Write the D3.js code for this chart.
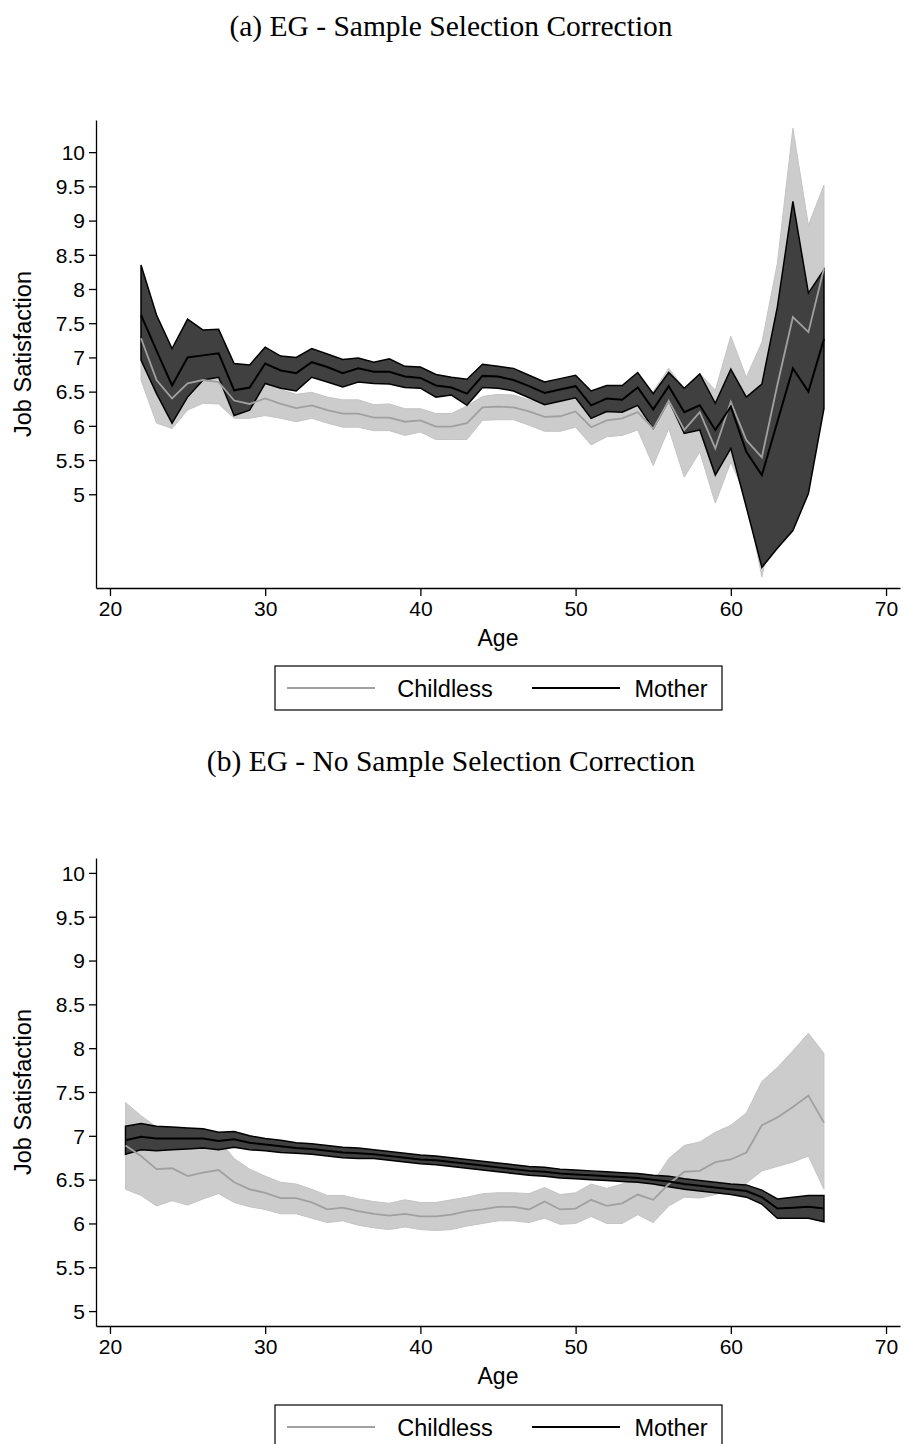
<!DOCTYPE html>
<html>
<head>
<meta charset="utf-8">
<script src="https://cdn.jsdelivr.net/npm/d3@7"></script>
<style>
    body { margin: 0; background: #fff; }
    text { font-family: "Liberation Sans", Arial, sans-serif; fill: #000; }
    .title { font-family: "Liberation Serif", "Times New Roman", serif; }
</style>
</head>
<body>
<div id="chart"></div>
<script>
// (a) with sample selection correction, ages 22-66
const agesA = [22,23,24,25,26,27,28,29,30,31,32,33,34,35,36,37,38,39,40,41,42,43,44,45,46,47,48,49,50,51,52,53,54,55,56,57,58,59,60,61,62,63,64,65,66];
const childlessMeanA = [7.28,6.67,6.40,6.62,6.67,6.64,6.37,6.32,6.40,6.32, 6.26,6.30,6.23,6.18,6.18,6.12,6.12,6.06,6.08,5.99, 5.99,6.04,6.27,6.28,6.27,6.21,6.13,6.14,6.21,5.98, 6.08,6.11,6.20,5.96,6.37,5.94,6.20,5.67,6.35,5.79, 5.54,6.60,7.59,7.37,8.30];
const childlessHiA = [7.85,7.30,6.84,7.00,7.00,6.96,6.63,6.53,6.65,6.53, 6.46,6.49,6.42,6.38,6.38,6.31,6.32,6.25,6.25,6.18, 6.18,6.29,6.43,6.46,6.45,6.38,6.33,6.35,6.41,6.15, 6.30,6.33,6.45,6.50,6.84,6.55,6.77,6.52,7.31,6.71, 7.22,8.38,10.35,8.93,9.52];
const childlessLoA = [6.67,6.04,5.96,6.23,6.33,6.32,6.11,6.11,6.15,6.11, 6.06,6.11,6.04,5.98,5.98,5.93,5.93,5.86,5.91,5.80, 5.80,5.80,6.08,6.09,6.09,6.01,5.92,5.92,5.98,5.72, 5.84,5.86,5.94,5.42,5.96,5.25,5.62,4.87,5.47,4.95, 3.79,4.90,4.83,5.81,7.08];
const motherMeanA = [7.62,7.10,6.59,7.00,7.03,7.06,6.52,6.56,6.91,6.81, 6.77,6.93,6.86,6.77,6.84,6.79,6.79,6.72,6.70,6.59, 6.56,6.47,6.73,6.72,6.67,6.58,6.48,6.53,6.58,6.30, 6.40,6.38,6.56,6.24,6.58,6.20,6.30,5.94,6.28,5.62, 5.28,6.06,6.84,6.50,7.27];
const motherHiA = [8.35,7.62,7.13,7.56,7.40,7.41,6.91,6.89,7.15,7.02, 7.00,7.13,7.05,6.97,6.99,6.93,6.98,6.87,6.86,6.75, 6.71,6.68,6.90,6.87,6.84,6.74,6.64,6.69,6.74,6.51, 6.59,6.59,6.78,6.47,6.78,6.55,6.76,6.33,6.83,6.42, 6.61,7.74,9.28,7.94,8.28];
const motherLoA = [6.96,6.47,6.04,6.42,6.67,6.71,6.15,6.23,6.62,6.55, 6.51,6.71,6.64,6.57,6.64,6.62,6.61,6.56,6.55,6.42, 6.45,6.30,6.56,6.55,6.51,6.41,6.31,6.36,6.41,6.11, 6.21,6.20,6.30,5.96,6.37,5.89,5.94,5.28,5.67,4.81, 3.93,4.21,4.47,5.01,6.25];

// (b) no correction, ages 21-66
const agesB = [21,22,23,24,25,26,27,28,29,30,31,32,33,34,35,36,37,38,39,40,41,42,43,44,45,46,47,48,49,50,51,52,53,54,55,56,57,58,59,60,61,62,63,64,65,66];
const childlessMeanB = [6.89,6.77,6.62,6.63,6.54,6.58,6.61,6.47,6.39,6.35, 6.29,6.29,6.24,6.16,6.18,6.14,6.11,6.09,6.11,6.08, 6.08,6.10,6.14,6.16,6.19,6.19,6.16,6.25,6.16,6.17, 6.27,6.20,6.23,6.33,6.27,6.45,6.59,6.60,6.70,6.73, 6.81,7.12,7.21,7.33,7.46,7.15];
const childlessHiB = [7.38,7.23,7.10,7.08,7.07,7.06,6.96,6.74,6.62,6.54, 6.47,6.45,6.39,6.32,6.32,6.28,6.25,6.23,6.27,6.24, 6.24,6.27,6.30,6.34,6.35,6.35,6.34,6.41,6.33,6.35, 6.45,6.40,6.45,6.51,6.47,6.74,6.89,6.93,7.04,7.12, 7.26,7.62,7.78,7.97,8.17,7.94];
const childlessLoB = [6.39,6.32,6.20,6.26,6.21,6.28,6.34,6.24,6.19,6.16, 6.11,6.11,6.06,6.01,6.03,5.98,5.95,5.93,5.96,5.93, 5.92,5.93,5.97,6.00,6.03,6.03,6.01,6.06,5.99,6.00, 6.08,6.00,6.00,6.10,6.01,6.20,6.30,6.29,6.33,6.39, 6.46,6.60,6.65,6.70,6.77,6.39];
const motherMeanB = [6.95,6.99,6.97,6.97,6.97,6.97,6.94,6.96,6.92,6.90, 6.88,6.86,6.85,6.83,6.81,6.80,6.79,6.77,6.75,6.73, 6.72,6.70,6.68,6.66,6.64,6.62,6.60,6.59,6.57,6.56, 6.55,6.54,6.53,6.52,6.50,6.48,6.45,6.43,6.41,6.39, 6.37,6.30,6.17,6.18,6.19,6.17];
const motherHiB = [7.11,7.14,7.11,7.10,7.09,7.08,7.04,7.05,7.00,6.97, 6.95,6.92,6.91,6.89,6.87,6.86,6.84,6.82,6.80,6.78, 6.77,6.75,6.73,6.71,6.69,6.67,6.65,6.64,6.62,6.61, 6.60,6.59,6.58,6.57,6.55,6.54,6.51,6.49,6.47,6.45, 6.44,6.38,6.28,6.30,6.32,6.32];
const motherLoB = [6.79,6.84,6.83,6.84,6.85,6.86,6.84,6.87,6.84,6.83, 6.81,6.80,6.79,6.77,6.75,6.74,6.74,6.72,6.70,6.68, 6.67,6.65,6.63,6.61,6.59,6.57,6.55,6.54,6.52,6.51, 6.50,6.49,6.48,6.47,6.45,6.42,6.39,6.37,6.35,6.33, 6.30,6.22,6.06,6.06,6.06,6.02];

const yTicks = [5, 5.5, 6, 6.5, 7, 7.5, 8, 8.5, 9, 9.5, 10];
const xTicks = [20, 30, 40, 50, 60, 70];
const seriesNames = ["Childless", "Mother"];

class BandChart {

    constructor(svg, cfg, data) {
        this.svg = svg;
        this.cfg = cfg;
        this.data = data;

        this.initVis();
    }

    initVis() {
        let vis = this;
        let c = vis.cfg;

        vis.g = vis.svg.append("g");

        vis.x = d3.scaleLinear().domain([19.1, 70.9]).range([96, 900]);
        vis.y = d3.scaleLinear().domain(c.yDomain).range([c.bottom, c.top]);

        vis.g.append("text")
            .attr("class", "title")
            .attr("x", 451)
            .attr("y", c.titleY)
            .attr("text-anchor", "middle")
            .style("font-size", "29.5px")
            .text(c.title);

        vis.wrangleData();
    }

    wrangleData() {
        let vis = this;
        let d = vis.data;

        vis.childless = d.ages.map((a, i) => ({age: a, m: d.cMean[i], hi: d.cHi[i], lo: d.cLo[i]}));
        vis.mother = d.ages.map((a, i) => ({age: a, m: d.mMean[i], hi: d.mHi[i], lo: d.mLo[i]}));

        vis.updateVis();
    }

    updateVis() {
        let vis = this;
        let c = vis.cfg;

        let area = d3.area()
            .x(d => vis.x(d.age))
            .y0(d => vis.y(d.lo))
            .y1(d => vis.y(d.hi));
        let line = d3.line()
            .x(d => vis.x(d.age))
            .y(d => vis.y(d.m));

        vis.g.append("path")
            .datum(vis.childless)
            .attr("d", area)
            .attr("fill", "#cccccc")
            .attr("stroke", "#c4c4c4")
            .attr("stroke-width", 1);

        vis.g.append("path")
            .datum(vis.mother)
            .attr("d", area)
            .attr("fill", "#404040")
            .attr("stroke", "#000")
            .attr("stroke-width", 1.5)
            .attr("stroke-linejoin", "miter");

        vis.g.append("path")
            .datum(vis.childless)
            .attr("d", line)
            .attr("fill", "none")
            .attr("stroke", "#a0a0a0")
            .attr("stroke-width", 1.8);

        vis.g.append("path")
            .datum(vis.mother)
            .attr("d", line)
            .attr("fill", "none")
            .attr("stroke", "#000")
            .attr("stroke-width", 2);

        // axes
        let yAxis = vis.g.append("g")
            .attr("transform", "translate(96,0)")
            .call(d3.axisLeft(vis.y).tickValues(yTicks).tickSize(7).tickSizeOuter(0).tickPadding(4).tickFormat(d => String(d)));
        let xAxis = vis.g.append("g")
            .attr("transform", `translate(0,${c.bottom})`)
            .call(d3.axisBottom(vis.x).tickValues(xTicks).tickSize(8).tickSizeOuter(0).tickPadding(5));

        [yAxis, xAxis].forEach(ax => {
            ax.selectAll("path, line").attr("stroke", "#000").attr("stroke-width", 1.3);
            ax.selectAll("text").style("font-size", "21px").attr("fill", "#000");
        });
        xAxis.selectAll("text").attr("dy", "0.72em");
        yAxis.selectAll("text").attr("dy", "0.35em");

        vis.g.append("text")
            .attr("transform", `translate(31,${(c.top + c.bottom) / 2}) rotate(-90)`)
            .attr("text-anchor", "middle")
            .style("font-size", "23.5px")
            .text("Job Satisfaction");

        vis.g.append("text")
            .attr("x", 498)
            .attr("y", c.bottom + 58)
            .attr("text-anchor", "middle")
            .style("font-size", "23px")
            .text("Age");

        // legend
        let lg = vis.g.append("g").attr("transform", `translate(275,${c.legendY})`);
        lg.append("rect")
            .attr("width", 447).attr("height", 44)
            .attr("fill", "#fff").attr("stroke", "#000").attr("stroke-width", 1.2);
        let items = [{x: 12, col: "#a0a0a0", tx: 170}, {x: 257, col: "#000", tx: 396}];
        seriesNames.forEach((name, i) => {
            lg.append("line")
                .attr("x1", items[i].x).attr("x2", items[i].x + 88)
                .attr("y1", 22).attr("y2", 22)
                .attr("stroke", items[i].col).attr("stroke-width", 2);
            lg.append("text")
                .attr("x", items[i].tx).attr("y", 30.5)
                .attr("text-anchor", "middle")
                .style("font-size", "23.5px")
                .text(name);
        });
    }
}

const svg = d3.select("#chart").append("svg")
    .attr("width", 904)
    .attr("height", 1444)
    .style("background", "#fff");

new BandChart(svg,
    {title: "(a) EG - Sample Selection Correction", titleY: 36, top: 120, bottom: 588, yDomain: [3.63, 10.47], legendY: 666},
    {ages: agesA, cMean: childlessMeanA, cHi: childlessHiA, cLo: childlessLoA, mMean: motherMeanA, mHi: motherHiA, mLo: motherLoA});

new BandChart(svg,
    {title: "(b) EG - No Sample Selection Correction", titleY: 771, top: 858, bottom: 1326, yDomain: [4.83, 10.17], legendY: 1405},
    {ages: agesB, cMean: childlessMeanB, cHi: childlessHiB, cLo: childlessLoB, mMean: motherMeanB, mHi: motherHiB, mLo: motherLoB});
</script>
</body>
</html>
